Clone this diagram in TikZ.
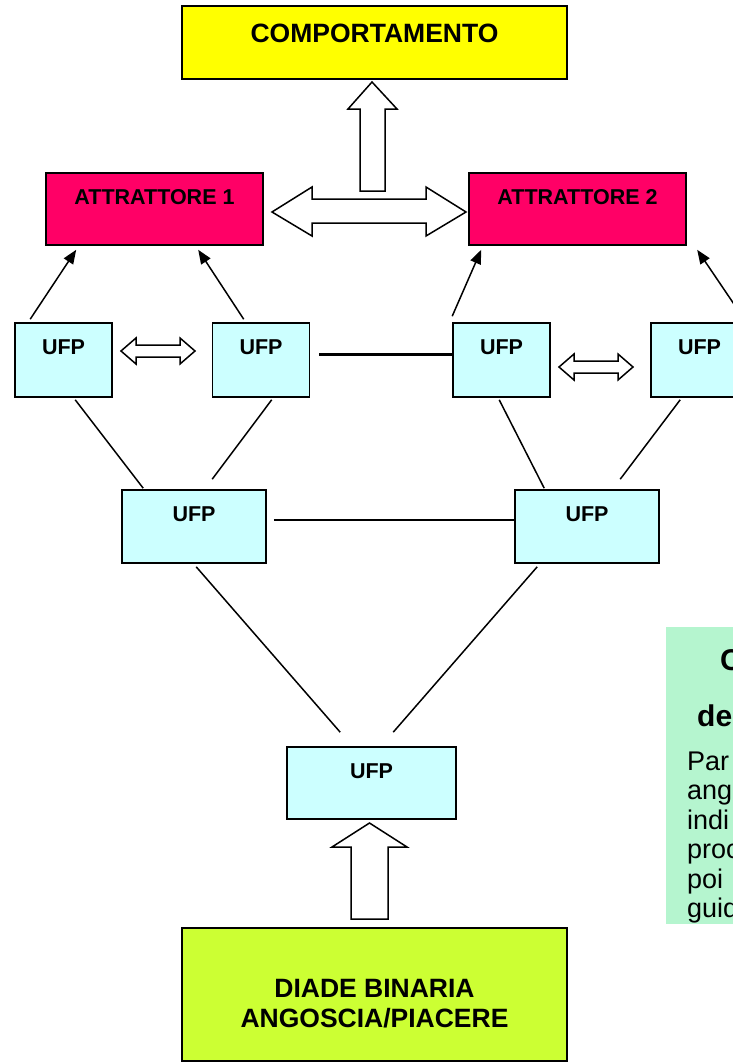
\documentclass[tikz,border=0pt]{standalone}
\usepackage{fontspec}
\setmainfont{Liberation Sans}
\usetikzlibrary{calc,arrows.meta}
\definecolor{cyel}{HTML}{FFFF00}
\definecolor{cpink}{HTML}{FF0066}
\definecolor{ccyan}{HTML}{CCFFFF}
\definecolor{clime}{HTML}{CCFF33}
\definecolor{cmint}{HTML}{B5F5CF}
\tikzset{
  box/.style={draw=black, line width=1.6pt, inner sep=0pt, rectangle},
  ufp/.style={box, fill=ccyan, minimum width=97pt, minimum height=74pt},
  ufpw/.style={box, fill=ccyan, minimum width=144pt, minimum height=73pt},
  attr/.style={box, fill=cpink, minimum width=217pt, minimum height=72pt},
  lbl/.style={inner sep=0pt, font=\fontsize{21.5}{25}\selectfont\bfseries, text height=15pt, text depth=0pt},
  biglbl/.style={inner sep=0pt, font=\fontsize{26.5}{30}\selectfont\bfseries, text height=19pt, text depth=0pt},
  notehead/.style={inner sep=0pt, anchor=base west, font=\fontsize{30}{34}\selectfont\bfseries},
  notetxt/.style={inner sep=0pt, anchor=base west, font=\fontsize{27}{30}\selectfont},
  link/.style={draw=black, line width=1.5pt},
  pointer/.style={link, -{Triangle[length=14pt,width=11pt]}},
  blockarrow/.style={draw=black, line width=1.5pt, fill=white, line join=miter},
}
\begin{document}
\begin{tikzpicture}[x=1pt,y=-1pt]
\useasboundingbox (0,0) rectangle (733,1063);
\clip (0,0) rectangle (733,1063);
\fill[white] (0,0) rectangle (733,1063);

% note box (cut by the picture edge)
\fill[cmint] (666,627) rectangle (780,924);
\node[notehead] (nh1) at (720,670) {C};
\node[notehead] (nh2) at (697,726) {de};
\node[notetxt] (nt1) at (687,770) {Par};
\node[notetxt] (nt2) at (687,799.5) {ang};
\node[notetxt] (nt3) at (687,829) {indi};
\node[notetxt] (nt4) at (687,858.5) {proc};
\node[notetxt] (nt5) at (687,888) {poi};
\node[notetxt] (nt6) at (687,917.5) {guid};

% main boxes
\node[box, fill=cyel, minimum width=385pt, minimum height=73pt] (comp) at (374.5,42.5) {};
\node[biglbl] (compt) at (374.5,33) {COMPORTAMENTO};

\node[attr] (att1) at (154.5,209) {};
\node[lbl] (att1t) at (154.5,197) {ATTRATTORE 1};
\node[attr] (att2) at (577.5,209) {};
\node[lbl] (att2t) at (577.5,197) {ATTRATTORE 2};

\node[ufp] (u1) at (63.5,360) {};
\node[lbl] (u1t) at (63.5,347) {UFP};
\node[ufp] (u2) at (261,360) {};
\node[lbl] (u2t) at (261,347) {UFP};
\node[ufp] (u3) at (501.5,360) {};
\node[lbl] (u3t) at (501.5,347) {UFP};
\node[ufp] (u4) at (699.5,360) {};
\node[lbl] (u4t) at (699.5,347) {UFP};

\node[ufpw] (u5) at (194,526.5) {};
\node[lbl] (u5t) at (194,514) {UFP};
\node[ufpw] (u6) at (587,526.5) {};
\node[lbl] (u6t) at (587,514) {UFP};

\node[box, fill=ccyan, minimum width=169pt, minimum height=72pt] (u7) at (371.5,783) {};
\node[lbl] (u7t) at (371.5,771) {UFP};

\node[box, fill=clime, minimum width=385pt, minimum height=133pt] (dia) at (374.5,994.5) {};
\node[biglbl] (dia1) at (374.5,988) {DIADE BINARIA};
\node[biglbl] (dia2) at (374.5,1018) {ANGOSCIA/PIACERE};

% pointers to attractors
\draw[pointer] ($(u1.north west)+(16,-3)$) -- ($(att1.south west)+(31,4)$);
\draw[pointer] ($(u2.north west)+(32,-3)$) -- ($(att1.south west)+(153,4)$);
\draw[pointer] ($(u3.north west)+(0,-6)$) -- ($(att2.south west)+(13,4)$);
\draw[pointer] ($(u4.north west)+(94,-3)$) -- ($(att2.south west)+(229,4)$);

% plain links
\draw[link] ($(u1.south west)+(61,2)$) -- ($(u5.north west)+(22,-1)$);
\draw[link] ($(u2.south west)+(60,2)$) -- ($(u5.north west)+(91,-10)$);
\draw[link] ($(u3.south west)+(47,2)$) -- ($(u6.north west)+(30,-1)$);
\draw[link] ($(u4.south west)+(30,2)$) -- ($(u6.north west)+(106,-10)$);
\draw[link] ($(u5.east)+(7,-6.5)$) -- ($(u6.west)+(0,-6.5)$);
\draw[link] ($(u5.south west)+(75,3)$) -- ($(u7.north west)+(54,-14)$);
\draw[link] ($(u6.south west)+(23,3)$) -- ($(u7.north west)+(107,-14)$);
\draw[draw=black, line width=3pt] ($(u2.east)+(9,-6)$) -- ($(u3.west)+(0,-6)$);

% block arrows
\draw[blockarrow] (372,82) -- (397,109) -- (385,109) -- (385,191) -- (360,191) -- (360,109) -- (348,109) -- cycle;
\draw[blockarrow] (272,212) -- (312,187) -- (312,199) -- (426,199) -- (426,187) -- (466,212) -- (426,236) -- (426,223) -- (312,223) -- (312,236) -- cycle;
\draw[blockarrow] (121,351) -- (136,338) -- (136,345) -- (180,345) -- (180,338) -- (195,351) -- (180,364) -- (180,357) -- (136,357) -- (136,364) -- cycle;
\draw[blockarrow] (559,367) -- (574,354) -- (574,361) -- (618,361) -- (618,354) -- (633,367) -- (618,380) -- (618,373) -- (574,373) -- (574,380) -- cycle;
\draw[blockarrow] (369.5,823) -- (407,847) -- (388,847) -- (388,919) -- (351,919) -- (351,847) -- (332,847) -- cycle;
\end{tikzpicture}
\end{document}
